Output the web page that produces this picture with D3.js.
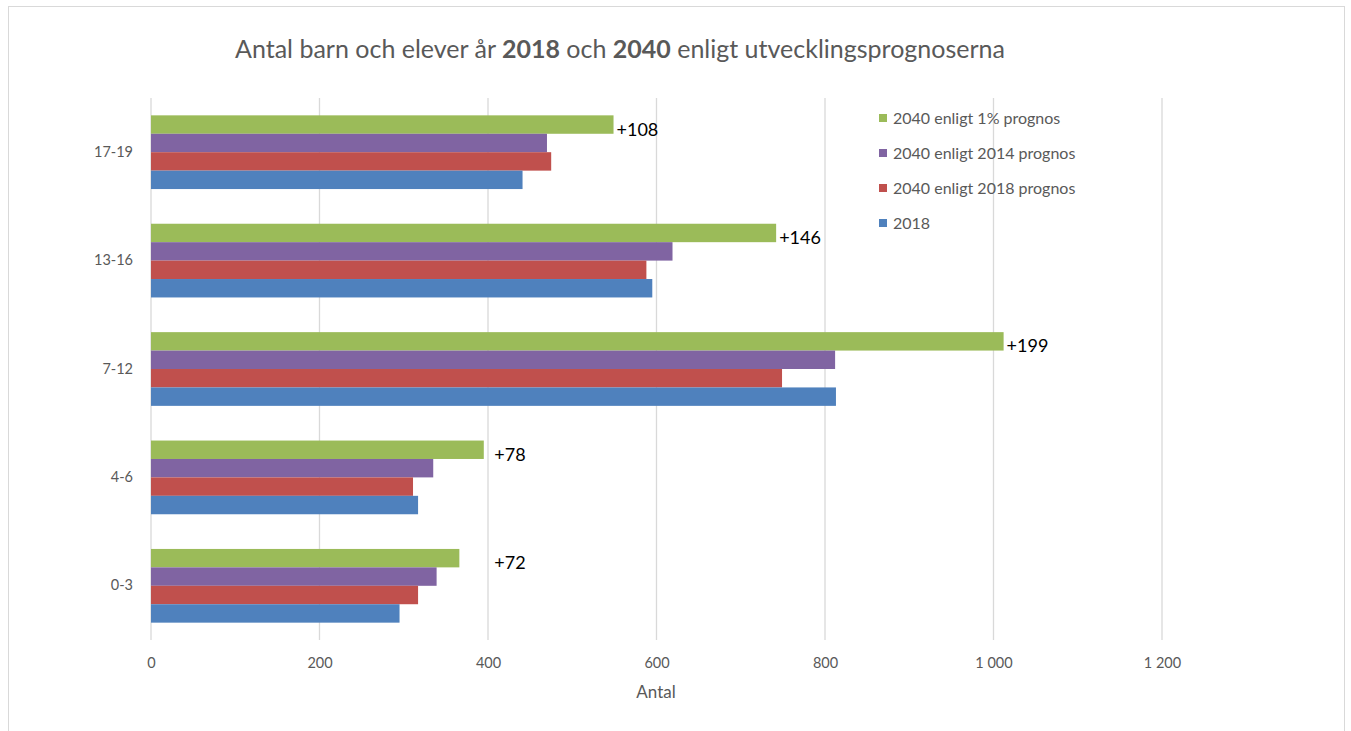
<!DOCTYPE html>
<html>
<head>
<meta charset="utf-8">
<script src="https://cdn.jsdelivr.net/npm/d3@7"></script>
<style>
  body { margin: 0; background: #fff; }
  text { font-family: Lato, "Open Sans", sans-serif; }
</style>
</head>
<body>
<svg id="chart" width="1351" height="731"></svg>
<script>
// age groups, top to bottom
var categories = ['17-19', '13-16', '7-12', '4-6', '0-3'];
// series, in legend order (top bar first)
var seriesNames = ['2040 enligt 1% prognos', '2040 enligt 2014 prognos', '2040 enligt 2018 prognos', '2018'];
var prognos1 = [549, 742, 1012, 395, 366];
var prognos2014 = [470, 619, 812, 335, 339];
var prognos2018 = [475, 588, 749, 311, 317];
var actual2018 = [441, 595, 813, 317, 295];
var diffLabels = ['+108', '+146', '+199', '+78', '+72'];
var xTicks = [0, 200, 400, 600, 800, 1000, 1200];

var colors = ['#9BBB59', '#8064A2', '#C0504D', '#4F81BD'];
var values = [prognos1, prognos2014, prognos2018, actual2018];

var svg = d3.select('#chart');

// outer frame
svg.append('rect')
    .attr('x', 8.5).attr('y', 6.5)
    .attr('width', 1336).attr('height', 740)
    .attr('fill', 'none').attr('stroke', '#d9d9d9');

var x = d3.scaleLinear().domain([0, 1200]).range([151, 1162]);
var y = d3.scaleBand().domain(categories).range([98, 640]).paddingInner(0.32).paddingOuter(0.16);
var ySub = d3.scaleBand().domain(d3.range(4)).range([0, y.bandwidth()]);

var fmt = function(d){ return d3.format(',')(d).replace(/,/g, ' '); };

// gridlines + tick labels
var xAxis = d3.axisBottom(x).tickValues(xTicks).tickSize(0).tickFormat(fmt).tickPadding(0);
var gx = svg.append('g').attr('transform', 'translate(0,640)').call(xAxis);
gx.select('.domain').remove();
gx.selectAll('text').attr('dy', 0).attr('y', 28).attr('fill', '#595959').style('font-size', '14.5px');

svg.append('g').selectAll('line').data(xTicks).join('line')
    .attr('x1', d => x(d)).attr('x2', d => x(d))
    .attr('y1', 98).attr('y2', 640)
    .attr('stroke', '#d9d9d9').attr('stroke-width', 1.3);

// category labels
var yAxis = d3.axisLeft(y).tickSize(0).tickPadding(18);
var gy = svg.append('g').attr('transform', 'translate(151,0)').call(yAxis);
gy.select('.domain').remove();
gy.selectAll('text').attr('fill', '#595959').style('font-size', '14.5px');

// bars
categories.forEach(function(cat, i){
  var g = svg.append('g').attr('transform', 'translate(0,' + y(cat) + ')');
  g.selectAll('rect').data(values.map(function(v, s){ return {s: s, v: v[i]}; })).join('rect')
      .attr('x', x(0))
      .attr('y', d => ySub(d.s))
      .attr('width', d => x(d.v) - x(0))
      .attr('height', ySub.bandwidth())
      .attr('fill', d => colors[d.s]);
});

// difference labels next to the green bars
svg.append('g').selectAll('text').data(categories).join('text')
    .attr('x', (d, i) => Math.max(x(prognos1[i]), x(404)) + 3)
    .attr('y', (d, i) => y(d) + ySub.bandwidth() / 2 + 11)
    .attr('fill', '#000')
    .style('font-size', '18px')
    .text((d, i) => diffLabels[i]);

// title
var title = svg.append('text')
    .attr('x', 620).attr('y', 58)
    .attr('text-anchor', 'middle')
    .attr('fill', '#595959')
    .style('font-size', '25px');
title.append('tspan').text('Antal barn och elever år ');
title.append('tspan').attr('font-weight', 'bold').text('2018');
title.append('tspan').text(' och ');
title.append('tspan').attr('font-weight', 'bold').text('2040');
title.append('tspan').text(' enligt utvecklingsprognoserna');

// axis title
svg.append('text')
    .attr('x', 656).attr('y', 698)
    .attr('text-anchor', 'middle')
    .attr('fill', '#595959')
    .style('font-size', '17px')
    .text('Antal');

// legend
var legend = svg.append('g').selectAll('g').data(seriesNames).join('g')
    .attr('transform', (d, i) => 'translate(879,' + (118 + i * 35) + ')');
legend.append('rect')
    .attr('x', 0).attr('y', -4)
    .attr('width', 8).attr('height', 8)
    .attr('fill', (d, i) => colors[i]);
legend.append('text')
    .attr('x', 14).attr('y', 5.5)
    .attr('fill', '#595959')
    .style('font-size', '16px')
    .text(d => d);
</script>
</body>
</html>
